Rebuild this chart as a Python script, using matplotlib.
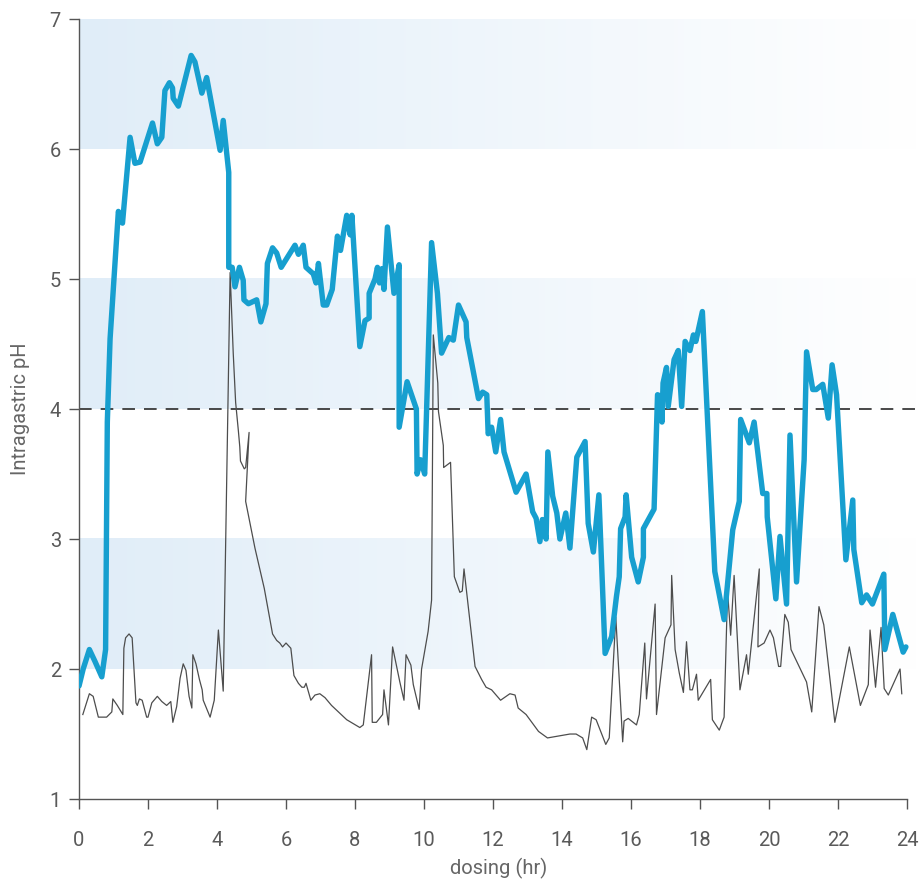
import numpy as np
import matplotlib
matplotlib.use("Agg")
import matplotlib.pyplot as plt

plt.rcParams['font.family'] = ['Roboto', 'DejaVu Sans']

# pH trace on treatment (thick blue)
treat_hr = [0.0, 0.12, 0.3, 0.46, 0.66, 0.77, 0.82, 0.9, 1.14, 1.26, 1.48, 1.62, 1.77,
            2.13, 2.27, 2.40, 2.49, 2.62, 2.71, 2.73, 2.88, 3.07, 3.25, 3.36, 3.56, 3.70,
            4.09, 4.18, 4.34, 4.34, 4.44, 4.52, 4.65, 4.76, 4.78, 4.91, 5.15, 5.27, 5.42,
            5.46, 5.61, 5.73, 5.86, 6.26, 6.36, 6.50, 6.58, 6.79, 6.87, 6.94, 7.08, 7.18,
            7.34, 7.49, 7.58, 7.76, 7.86, 7.91, 8.14, 8.29, 8.41, 8.41, 8.58, 8.65, 8.71,
            8.78, 8.84, 8.94, 9.13, 9.28, 9.28, 9.51, 9.78, 9.80, 9.90, 10.02, 10.22,
            10.39, 10.51, 10.72, 10.85, 11.00, 11.22, 11.24, 11.58, 11.70, 11.82, 11.86,
            11.96, 12.08, 12.22, 12.32, 12.67, 12.96, 13.15, 13.25, 13.36, 13.43, 13.54,
            13.59, 13.73, 13.85, 13.94, 14.11, 14.23, 14.43, 14.67, 14.76, 14.91, 15.07,
            15.25, 15.44, 15.58, 15.66, 15.70, 15.83, 15.86, 16.02, 16.21, 16.36, 16.36,
            16.67, 16.77, 16.85, 16.90, 16.93, 17.03, 17.08, 17.25, 17.37, 17.47, 17.57,
            17.71, 17.81, 17.88, 18.07, 18.43, 18.70, 18.95, 19.14, 19.18, 19.43, 19.57,
            19.82, 19.94, 19.95, 20.20, 20.32, 20.51, 20.61, 20.80, 21.02, 21.09, 21.27,
            21.37, 21.56, 21.72, 21.83, 21.96, 22.23, 22.43, 22.46, 22.69, 22.83, 23.00,
            23.33, 23.36, 23.59, 23.89, 23.97]
treat_ph = [1.87, 2.00, 2.15, 2.06, 1.94, 2.15, 3.90, 4.54, 5.52, 5.43, 6.09, 5.89, 5.90,
            6.20, 6.04, 6.09, 6.45, 6.51, 6.47, 6.39, 6.33, 6.53, 6.72, 6.67, 6.43, 6.55,
            5.99, 6.22, 5.82, 5.09, 5.09, 4.94, 5.09, 4.99, 4.84, 4.81, 4.84, 4.67, 4.81,
            5.12, 5.24, 5.20, 5.09, 5.26, 5.19, 5.26, 5.09, 5.04, 4.97, 5.12, 4.80, 4.80,
            4.92, 5.33, 5.22, 5.49, 5.34, 5.49, 4.48, 4.68, 4.70, 4.89, 5.00, 5.09, 4.97,
            5.08, 4.92, 5.40, 4.89, 5.11, 3.86, 4.21, 4.00, 3.50, 3.61, 3.50, 5.28,
            4.89, 4.43, 4.55, 4.53, 4.80, 4.67, 4.55, 4.08, 4.13, 4.11, 3.81,
            3.86, 3.67, 3.92, 3.67, 3.36, 3.50, 3.21, 3.16, 2.98, 3.15, 3.00,
            3.67, 3.33, 3.20, 3.00, 3.20, 2.93, 3.63, 3.75, 3.12, 2.90, 3.34,
            2.12, 2.25, 2.56, 2.71, 3.08, 3.17, 3.34, 2.86, 2.67, 2.86, 3.08,
            3.23, 4.11, 4.10, 3.90, 4.20, 4.32, 4.02, 4.38, 4.45, 4.02, 4.52,
            4.45, 4.57, 4.52, 4.75, 2.75, 2.38, 3.07, 3.29, 3.92, 3.74, 3.90,
            3.35, 3.35, 3.17, 2.54, 3.02, 2.50, 3.80, 2.67, 3.61, 4.44, 4.15,
            4.15, 4.19, 3.93, 4.34, 4.11, 2.84, 3.30, 2.92, 2.51, 2.57, 2.50,
            2.73, 2.15, 2.42, 2.13, 2.17]

# pH trace without treatment (thin grey)
base_hr = [0.11, 0.30, 0.41, 0.56, 0.80, 0.95, 0.98, 1.11, 1.27, 1.30, 1.35, 1.45, 1.54,
           1.65, 1.69, 1.75, 1.83, 1.96, 2.00, 2.11, 2.27, 2.40, 2.54, 2.66, 2.72, 2.83,
           2.93, 3.02, 3.10, 3.19, 3.27, 3.30, 3.39, 3.49, 3.57, 3.60, 3.80, 3.92, 4.04,
           4.18, 4.38, 4.47, 4.54, 4.62, 4.66, 4.68, 4.79, 4.83, 4.93, 4.83, 5.10, 5.37,
           5.61, 5.73, 5.82, 5.90, 6.00, 6.14, 6.23, 6.36, 6.46, 6.53, 6.58, 6.72, 6.84,
           6.98, 7.13, 7.32, 7.76, 8.14, 8.24, 8.48, 8.50, 8.62, 8.80, 8.84, 8.97, 9.09,
           9.30, 9.42, 9.48, 9.62, 9.69, 9.86, 9.93, 10.12, 10.22, 10.27, 10.40, 10.42,
           10.56, 10.57, 10.77, 10.88, 11.04, 11.11, 11.16, 11.48, 11.67, 11.80, 11.96,
           12.22, 12.49, 12.64, 12.73, 12.96, 13.32, 13.58, 14.23, 14.41, 14.60, 14.72,
           14.86, 14.99, 15.27, 15.37, 15.56, 15.76, 15.80, 15.92, 16.16, 16.24, 16.40,
           16.45, 16.70, 16.74, 16.99, 17.16, 17.18, 17.28, 17.40, 17.52, 17.61, 17.71,
           17.78, 17.90, 17.95, 18.31, 18.36, 18.56, 18.70, 18.80, 18.89, 18.99, 19.16,
           19.35, 19.40, 19.72, 19.68, 19.86, 20.03, 20.13, 20.28, 20.34, 20.46, 20.56,
           20.64, 21.09, 21.24, 21.45, 21.59, 21.91, 22.33, 22.65, 22.88, 22.93, 23.09,
           23.25, 23.34, 23.46, 23.80, 23.85]
base_ph = [1.65, 1.81, 1.79, 1.63, 1.63, 1.67, 1.77, 1.72, 1.65, 2.16, 2.24, 2.27, 2.24,
           1.74, 1.72, 1.77, 1.76, 1.63, 1.63, 1.74, 1.79, 1.75, 1.72, 1.75, 1.59, 1.71,
           1.93, 2.04, 1.99, 1.79, 1.70, 2.11, 2.04, 1.92, 1.84, 1.76, 1.63, 1.76, 2.30,
           1.83, 5.05, 4.43, 4.05, 3.83, 3.71, 3.60, 3.54, 3.55, 3.82, 3.29, 2.93, 2.62,
           2.27, 2.22, 2.20, 2.17, 2.20, 2.16, 1.95, 1.89, 1.86, 1.86, 1.89, 1.76, 1.80,
           1.81, 1.78, 1.72, 1.61, 1.55, 1.57, 2.11, 1.59, 1.59, 1.65, 1.84, 1.57, 2.17,
           1.90, 1.76, 2.11, 2.03, 1.88, 1.69, 2.00, 2.29, 2.53, 4.57, 4.20, 3.98,
           3.72, 3.55, 3.59, 2.71, 2.59, 2.60, 2.77, 2.02, 1.92, 1.86, 1.84,
           1.76, 1.81, 1.80, 1.70, 1.65, 1.52, 1.47, 1.50, 1.50, 1.47, 1.38,
           1.63, 1.61, 1.42, 1.47, 2.40, 1.44, 1.60, 1.62, 1.57, 1.65, 2.20,
           1.77, 2.50, 1.65, 2.24, 2.34, 2.72, 2.15, 1.97, 1.82, 2.21, 1.84,
           1.84, 1.96, 1.76, 1.92, 1.61, 1.53, 1.63, 2.60, 2.26, 2.72, 1.84,
           2.11, 1.96, 2.77, 2.17, 2.20, 2.30, 2.24, 2.02, 2.02, 2.42, 2.36,
           2.15, 1.90, 1.67, 2.48, 2.34, 1.59, 2.17, 1.72, 1.88, 2.30, 1.86,
           2.32, 1.85, 1.80, 2.00, 1.81]

bands = [(6, 7), (4, 5), (2, 3)]
threshold = 4
x_ticks = list(range(0, 25, 2))
y_ticks = [1, 2, 3, 4, 5, 6, 7]

fig = plt.figure(figsize=(9.2, 8.89), dpi=100)
ax = fig.add_axes([0.0859, 0.1012, 0.9119, 0.8774])
xmax = 24.32
ax.set_xlim(0, xmax)
ax.set_ylim(1, 7)

# light blue bands fading to white towards the right
c0 = np.array([224, 237, 248]) / 255.0
t = np.linspace(0, 1, 256)
grad = np.zeros((1, 256, 4))
grad[0, :, :3] = c0 * (1 - t[:, None]) + 1.0 * t[:, None]
grad[0, :, 3] = 1.0
for lo, hi in bands:
    ax.imshow(grad, extent=(0, xmax, lo, hi), aspect='auto', zorder=0,
              interpolation='bilinear')

ax.axhline(threshold, color='#3a3a3a', lw=1.3, ls=(0, (7, 5)), zorder=1)
ax.plot(base_hr, base_ph, color='#4d4d4d', lw=0.9, zorder=2)
ax.plot(treat_hr, treat_ph, color='#179fcf', lw=3.9, zorder=3,
        solid_joinstyle='round', solid_capstyle='round')

for s in ['top', 'right']:
    ax.spines[s].set_visible(False)
for s in ['left', 'bottom']:
    ax.spines[s].set_color('#555555')
    ax.spines[s].set_linewidth(1.0)
ax.spines['bottom'].set_bounds(0, 24)

ax.set_xticks(x_ticks)
ax.set_yticks(y_ticks)
ax.tick_params(axis='both', colors='#555555', labelcolor='#5a5a5a', length=7,
               width=1.0, labelsize=14.5)
ax.tick_params(axis='x', pad=16)
ax.tick_params(axis='y', pad=6)

ax.set_xlabel('dosing (hr)', fontsize=14.5, color='#666666', labelpad=6)
ax.set_ylabel('Intragastric pH', fontsize=14.5, color='#666666', labelpad=14)

fig.savefig('out.png', dpi=100, facecolor='white')
